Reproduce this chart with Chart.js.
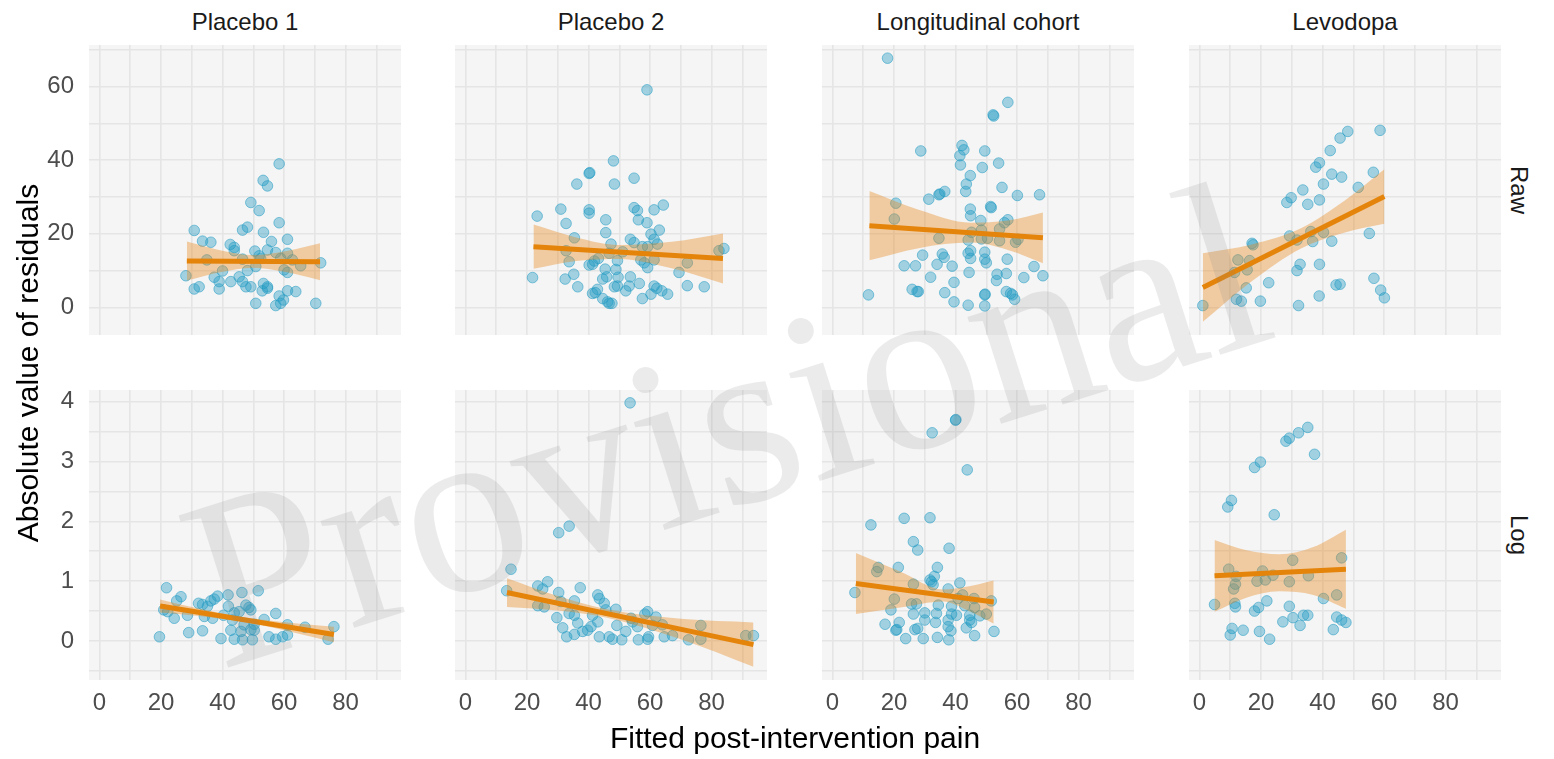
<!DOCTYPE html>
<html>
<head>
<meta charset="utf-8">
<script src="https://cdn.jsdelivr.net/npm/chart.js@4/dist/chart.umd.min.js"></script>
<style>
  html, body { margin: 0; padding: 0; background: #ffffff; }
  #fig { position: relative; width: 1554px; height: 759px; overflow: hidden;
         font-family: "Liberation Sans", Arial, sans-serif; }
  #fig canvas { position: absolute; }
  .lbl { position: absolute; white-space: nowrap; line-height: 1; }
  #wm { position: absolute; left: 0; top: 0; pointer-events: none; }
</style>
</head>
<body>
<div id="fig"></div>
<script>
// ---- facet labels ----
const columnNames = ["Placebo 1", "Placebo 2", "Longitudinal cohort", "Levodopa"];
const rowNames = ["Raw", "Log"];
const xTitle = "Fitted post-intervention pain";
const yTitle = "Absolute value of residuals";
const watermarkText = "Provisional";

// ---- axes: grid positions and labelled ticks ----
const xGrid = [0, 10, 20, 30, 40, 50, 60, 70, 80, 90];
const xTickLabels = [0, 20, 40, 60, 80];
const rawGrid = [0, 10, 20, 30, 40, 50, 60, 70];
const rawTickLabels = [0, 20, 40, 60];
const logGrid = [-0.5, 0, 0.5, 1, 1.5, 2, 2.5, 3, 3.5, 4];
const logTickLabels = [0, 1, 2, 3, 4];
const xRange = [-3.4, 98.0];
const rawRange = [-7.5, 71.28];
const logRange = [-0.652, 4.195];

// ---- Placebo 1, raw residuals ----
const placebo1RawX = [58.4,53.2,54.6,49.2,51.9,58.4,30.8,46.5,48.1,53.3,61.1,55.9,33.5,36.2,42.5,43.8,43.8,50.5,54.6,57.3,61.1,51.9,34.9,46.5,52.4,58.9,62.7,71.9,65.4,50.8,48.1,40.0,60.0,61.1,28.1,37.3,45.4,38.9,42.7,46.5,53.3,47.6,49.2,54.6,30.8,32.4,38.9,52.9,61.1,63.8,58.4,59.8,58.9,57.3,50.8,70.3,54.6];
const placebo1RawY = [39.0,34.5,33.0,28.5,26.3,23.0,20.9,21.0,21.8,20.4,18.5,17.9,18.0,17.7,17.1,16.3,15.4,15.3,15.6,14.9,14.7,14.0,12.9,13.1,13.3,13.3,12.9,12.1,11.3,11.1,10.0,9.9,10.2,9.5,8.6,8.2,8.3,7.0,7.0,7.0,6.5,5.6,5.6,5.2,5.0,5.6,5.0,4.5,4.5,4.3,3.1,2.0,1.1,0.5,1.1,1.1,5.6];
const placebo1RawFitX = [28.4, 71.7];
const placebo1RawFitY = [12.6, 12.4];
const placebo1RawBandX = [28.4, 39.2, 50, 60.9, 71.7];
const placebo1RawLo = [7.3, 9.55, 10.8, 9.55, 7.4];
const placebo1RawHi = [17.9, 15.55, 14.2, 15.35, 17.4];

// ---- Placebo 2, raw residuals ----
const placebo2RawX = [59.0,48.1,40.2,40.4,36.2,48.4,54.8,23.3,31.0,40.2,40.2,54.8,55.9,61.3,64.3,45.6,32.7,56.2,59.0,45.6,63.0,60.3,35.4,53.6,54.8,61.3,62.4,47.3,59.2,57.5,32.7,46.7,51.1,82.4,84.0,43.2,41.9,40.2,41.3,33.7,49.4,57.0,58.1,61.3,72.1,59.2,45.4,48.9,69.4,35.2,21.8,32.4,44.6,45.9,49.6,53.6,56.5,36.5,48.4,49.4,53.2,52.1,61.3,62.2,63.8,65.7,72.1,77.6,42.9,41.3,42.2,44.6,46.2,47.6,46.7,57.5,60.3];
const placebo2RawY = [59.1,39.8,36.4,36.6,33.5,33.5,35.1,24.8,26.7,26.5,25.6,27.1,26.3,26.5,27.8,23.8,22.8,23.8,23.0,20.3,21.0,19.9,18.9,18.5,17.6,18.5,17.2,17.2,16.5,16.5,15.4,14.7,15.1,15.4,16.0,13.3,12.6,11.5,11.7,12.4,12.7,12.9,12.1,12.9,12.1,10.8,10.4,10.3,9.5,9.0,8.1,7.7,7.7,8.3,8.2,8.3,6.5,5.6,5.6,5.8,5.8,4.5,5.8,5.2,4.5,3.6,5.9,5.6,4.9,3.8,4.0,2.4,1.5,1.1,1.1,2.4,3.6];
const placebo2RawFitX = [22.1, 83.7];
const placebo2RawFitY = [16.5, 13.3];
const placebo2RawBandX = [22.1, 36, 50, 67, 83.7];
const placebo2RawLo = [10.5, 12.6, 13.15, 10.6, 6.5];
const placebo2RawHi = [22.5, 19.0, 16.95, 17.8, 20.1];

// ---- Longitudinal cohort, raw residuals ----
const cohortRawX = [17.9,57.0,52.2,52.4,28.7,42.1,42.7,41.4,41.6,49.5,54.0,48.7,44.8,43.5,43.3,34.9,36.5,34.6,55.1,60.1,67.3,31.3,20.6,51.4,51.6,44.8,44.9,20.1,48.2,57.0,55.9,54.3,48.4,45.2,34.6,44.1,48.4,50.4,54.3,59.5,60.3,29.3,35.7,36.3,44.1,44.9,44.9,49.5,49.5,50.0,56.8,23.3,27.0,34.0,38.9,44.4,56.5,53.5,53.3,65.5,68.4,62.2,31.9,39.5,25.9,27.5,27.9,36.5,11.7,49.5,49.6,56.5,57.9,58.5,59.2,39.5,44.1,49.5];
const cohortRawY = [67.7,55.7,52.3,52.0,42.5,44.0,42.8,41.2,38.7,42.5,39.2,38.0,35.8,33.5,31.5,30.8,31.5,30.6,32.6,30.4,30.6,29.4,28.3,27.4,27.1,26.7,24.9,24.0,23.6,23.8,23.0,21.3,21.0,20.4,18.8,18.3,18.6,18.8,18.1,17.7,18.5,14.2,14.5,13.6,14.7,15.4,13.3,15.0,13.1,12.1,13.1,11.3,11.3,11.7,11.2,9.5,9.2,9.0,7.3,11.1,8.6,8.1,8.2,6.8,4.9,4.3,4.3,4.0,3.4,3.4,3.6,4.3,3.8,3.4,2.2,1.5,0.6,0.4];
const cohortRawFitX = [12.0, 68.4];
const cohortRawFitY = [22.2, 18.9];
const cohortRawBandX = [12, 28, 45, 57, 68.4];
const cohortRawLo = [12.8, 16.1, 17.6, 15.6, 12.0];
const cohortRawHi = [31.6, 26.5, 23.0, 23.6, 25.8];

// ---- Levodopa, raw residuals ----
const levodopaRawX = [58.7,48.2,45.7,42.5,39.0,37.8,56.5,43.0,46.2,40.3,51.6,33.6,39.0,29.8,28.4,35.2,29.3,31.7,36.2,36.8,40.3,43.0,55.2,17.1,17.4,12.5,16.3,11.4,15.5,15.2,32.7,31.7,39.0,22.5,12.0,13.6,19.8,1.1,32.2,38.9,44.4,45.7,56.7,58.9,60.1];
const levodopaRawY = [48.1,47.8,46.0,42.6,39.3,38.1,36.7,36.2,35.4,33.5,32.6,31.9,29.2,29.8,28.5,28.0,19.4,18.3,20.6,17.9,20.4,18.0,20.1,17.4,17.0,12.9,12.7,9.5,10.2,5.3,11.7,10.0,11.7,6.7,2.2,1.7,1.7,0.5,0.5,3.1,6.1,6.3,7.9,4.7,2.6];
const levodopaRawFitX = [1.1, 60.1];
const levodopaRawFitY = [5.4, 30.1];
const levodopaRawBandX = [1.1, 17, 33, 47, 60.1];
const levodopaRawLo = [-3.9, 7.1, 16.0, 20.3, 22.7];
const levodopaRawHi = [14.7, 17.1, 21.5, 28.9, 37.5];

// ---- Placebo 1, log residuals ----
const placebo1LogX = [21.8,51.6,46.3,41.8,38.4,26.5,25.1,32.2,33.5,36.2,37.3,35.1,41.9,47.6,48.6,49.2,45.4,43.8,57.3,20.9,22.2,28.6,24.3,34.1,36.8,40.3,53.5,49.2,50.3,42.7,46.0,33.5,29.0,61.1,61.1,59.5,57.3,55.1,49.7,46.5,43.8,39.5,19.5,66.8,76.2,74.3,43.2,47.0,50.3];
const placebo1LogY = [0.89,0.84,0.81,0.77,0.75,0.74,0.67,0.63,0.61,0.67,0.70,0.58,0.58,0.60,0.56,0.52,0.49,0.47,0.46,0.52,0.49,0.43,0.38,0.41,0.38,0.43,0.36,0.19,0.18,0.18,0.16,0.17,0.14,0.27,0.10,0.07,0.03,0.07,0.02,0.02,0.03,0.04,0.07,0.23,0.24,0.03,0.35,0.27,0.28];
const placebo1LogFitX = [19.7, 76.2];
const placebo1LogFitY = [0.585, 0.11];
const placebo1LogBandX = [19.7, 33, 46, 61, 76.2];
const placebo1LogLo = [0.475, 0.413, 0.324, 0.168, -0.02];
const placebo1LogHi = [0.695, 0.533, 0.404, 0.308, 0.24];

// ---- Placebo 2, log residuals ----
const placebo2LogX = [53.5,30.3,33.7,14.8,13.4,23.5,26.7,25.1,30.3,37.3,43.0,43.5,45.1,35.4,31.0,23.5,25.6,33.7,35.4,29.7,31.6,32.9,35.4,36.5,38.1,39.7,40.8,41.3,43.0,43.5,46.7,47.8,50.8,48.9,49.2,52.1,53.8,56.2,59.2,59.5,59.2,58.3,61.9,60.8,64.0,64.6,67.3,72.5,76.5,76.5,91.1,93.6,54.3,45.6,55.9];
const placebo2LogY = [3.98,1.81,1.92,1.20,0.84,0.92,0.99,0.87,0.81,0.89,0.77,0.71,0.63,0.67,0.66,0.59,0.57,0.46,0.43,0.39,0.22,0.07,0.11,0.30,0.16,0.18,0.24,0.43,0.32,0.07,0.07,0.03,0.02,0.53,0.26,0.16,0.38,0.02,0.03,0.07,0.49,0.45,0.40,0.26,0.27,0.07,0.09,0.02,0.26,0.03,0.09,0.09,0.32,0.52,0.24];
const placebo2LogFitX = [13.5, 93.6];
const placebo2LogFitY = [0.81, -0.06];
const placebo2LogBandX = [13.5, 30, 46, 70, 93.6];
const placebo2LogLo = [0.57, 0.51, 0.39, 0.03, -0.43];
const placebo2LogHi = [1.05, 0.75, 0.53, 0.37, 0.31];

// ---- Longitudinal cohort, log residuals ----
const cohortLogX = [40.0,40.1,32.4,43.8,12.5,23.3,31.7,26.3,27.7,37.9,14.9,14.4,21.4,34.1,33.1,31.7,32.7,26.3,41.4,7.3,20.1,25.7,27.3,37.6,42.3,46.0,51.6,34.4,38.7,43.0,19.0,26.3,30.0,33.8,38.7,40.3,44.6,46.2,47.9,50.0,30.0,33.5,37.6,44.6,45.2,21.7,17.1,20.6,20.9,26.8,27.7,37.6,38.5,43.5,52.5,23.8,29.5,34.1,37.8,46.2,40.8,32.2];
const cohortLogY = [3.69,3.70,3.48,2.86,1.94,2.05,2.06,1.66,1.52,1.55,1.23,1.16,1.23,1.23,1.08,1.02,0.94,0.95,0.97,0.81,0.70,0.62,0.62,0.87,0.77,0.71,0.67,0.60,0.58,0.59,0.52,0.45,0.47,0.46,0.45,0.43,0.43,0.56,0.42,0.45,0.35,0.31,0.35,0.35,0.31,0.31,0.28,0.18,0.19,0.19,0.21,0.24,0.17,0.22,0.16,0.04,0.04,0.06,0.02,0.09,0.71,0.99];
const cohortLogFitX = [7.6, 52.4];
const cohortLogFitY = [0.96, 0.65];
const cohortLogBandX = [7.6, 22, 36, 44, 52.4];
const cohortLogLo = [0.45, 0.56, 0.66, 0.51, 0.29];
const cohortLogHi = [1.47, 1.16, 0.86, 0.91, 1.01];

// ---- Levodopa, log residuals ----
const levodopaLogX = [35.2,32.2,29.2,28.1,37.4,19.8,17.9,10.4,9.2,24.3,46.2,30.3,9.5,20.5,23.9,35.4,11.9,11.7,11.1,18.7,21.4,29.2,40.3,44.6,4.9,11.5,11.7,21.9,17.9,19.2,29.2,27.1,30.4,33.8,35.2,32.7,44.6,46.2,47.6,43.5,10.6,10.0,14.2,19.5,22.8];
const levodopaLogY = [3.57,3.48,3.39,3.34,3.12,2.99,2.90,2.35,2.24,2.11,1.39,1.35,1.20,1.17,1.10,1.09,1.08,0.95,0.87,1.00,1.02,0.99,0.71,0.77,0.61,0.63,0.57,0.67,0.50,0.56,0.58,0.32,0.39,0.43,0.43,0.26,0.40,0.35,0.31,0.19,0.21,0.10,0.18,0.16,0.03];
const levodopaLogFitX = [4.9, 47.6];
const levodopaLogFitY = [1.09, 1.20];
const levodopaLogBandX = [4.9, 15, 26, 37, 47.6];
const levodopaLogLo = [0.49, 0.72, 0.83, 0.77, 0.54];
const levodopaLogHi = [1.69, 1.52, 1.45, 1.57, 1.86];

// ---- facet table ----
const facets = [
  { row: 0, col: 0, x: placebo1RawX, y: placebo1RawY, fitX: placebo1RawFitX, fitY: placebo1RawFitY, bandX: placebo1RawBandX, lo: placebo1RawLo, hi: placebo1RawHi },
  { row: 0, col: 1, x: placebo2RawX, y: placebo2RawY, fitX: placebo2RawFitX, fitY: placebo2RawFitY, bandX: placebo2RawBandX, lo: placebo2RawLo, hi: placebo2RawHi },
  { row: 0, col: 2, x: cohortRawX, y: cohortRawY, fitX: cohortRawFitX, fitY: cohortRawFitY, bandX: cohortRawBandX, lo: cohortRawLo, hi: cohortRawHi },
  { row: 0, col: 3, x: levodopaRawX, y: levodopaRawY, fitX: levodopaRawFitX, fitY: levodopaRawFitY, bandX: levodopaRawBandX, lo: levodopaRawLo, hi: levodopaRawHi },
  { row: 1, col: 0, x: placebo1LogX, y: placebo1LogY, fitX: placebo1LogFitX, fitY: placebo1LogFitY, bandX: placebo1LogBandX, lo: placebo1LogLo, hi: placebo1LogHi },
  { row: 1, col: 1, x: placebo2LogX, y: placebo2LogY, fitX: placebo2LogFitX, fitY: placebo2LogFitY, bandX: placebo2LogBandX, lo: placebo2LogLo, hi: placebo2LogHi },
  { row: 1, col: 2, x: cohortLogX, y: cohortLogY, fitX: cohortLogFitX, fitY: cohortLogFitY, bandX: cohortLogBandX, lo: cohortLogLo, hi: cohortLogHi },
  { row: 1, col: 3, x: levodopaLogX, y: levodopaLogY, fitX: levodopaLogFitX, fitY: levodopaLogFitY, bandX: levodopaLogBandX, lo: levodopaLogLo, hi: levodopaLogHi }
];

// ---- layout and style ----
const PANEL_W = 312, PANEL_H = 290;
const panelLeft = [89, 455, 822, 1189];
const panelTop = [45, 390];
const Y_AXIS_W = 89, X_AXIS_H = 45;
const SANS = '"Liberation Sans", Arial, sans-serif';
const panelFill = '#f5f5f5';
const gridColor = '#e5e5e5';
const pointFill = 'rgba(35,155,195,0.40)';
const pointEdge = 'rgba(35,155,195,0.55)';
const fitColor = '#e5840a';
const bandFill = 'rgba(232,135,25,0.38)';
const tickColor = '#4d4d4d';

Chart.defaults.font.family = SANS;

// grey panel background behind the grid
const panelBackground = {
  id: 'panelBackground',
  beforeDraw(chart) {
    const { ctx, chartArea: a } = chart;
    ctx.save();
    ctx.fillStyle = panelFill;
    ctx.fillRect(a.left, a.top, a.right - a.left, a.bottom - a.top);
    ctx.restore();
  }
};

const fig = document.getElementById('fig');

function pairs(xs, ys) { return xs.map((v, i) => ({ x: v, y: ys[i] })); }

function drawFacet(f) {
  const isLeft = f.col === 0, isBottom = f.row === 1;
  const yw = isLeft ? Y_AXIS_W : 0;
  const xh = isBottom ? X_AXIS_H : 0;
  const canvas = document.createElement('canvas');
  canvas.width = PANEL_W + yw;
  canvas.height = PANEL_H + xh;
  canvas.style.left = (isLeft ? panelLeft[0] - Y_AXIS_W : panelLeft[f.col]) + 'px';
  canvas.style.top = panelTop[f.row] + 'px';
  fig.appendChild(canvas);

  const yGrid = f.row === 0 ? rawGrid : logGrid;
  const yLabels = f.row === 0 ? rawTickLabels : logTickLabels;
  const yRange = f.row === 0 ? rawRange : logRange;

  new Chart(canvas, {
    type: 'scatter',
    data: {
      datasets: [
        { type: 'line', data: pairs(f.fitX, f.fitY), borderColor: fitColor, borderWidth: 5,
          borderCapStyle: 'butt', pointRadius: 0, fill: false },
        { type: 'line', data: pairs(f.bandX, f.hi), borderColor: 'rgba(0,0,0,0)', borderWidth: 0,
          pointRadius: 0, backgroundColor: bandFill, fill: '+1', cubicInterpolationMode: 'monotone' },
        { type: 'line', data: pairs(f.bandX, f.lo), borderColor: 'rgba(0,0,0,0)', borderWidth: 0,
          pointRadius: 0, fill: false, cubicInterpolationMode: 'monotone' },
        { type: 'scatter', data: pairs(f.x, f.y), pointRadius: 5.3, borderWidth: 1,
          backgroundColor: pointFill, borderColor: pointEdge }
      ]
    },
    options: {
      responsive: false,
      maintainAspectRatio: false,
      animation: false,
      devicePixelRatio: 1,
      events: [],
      layout: { padding: 0, autoPadding: false },
      plugins: { legend: { display: false }, tooltip: { enabled: false } },
      scales: {
        x: {
          type: 'linear', min: xRange[0], max: xRange[1],
          afterBuildTicks: s => { s.ticks = xGrid.map(v => ({ value: v })); },
          afterFit: s => { s.height = xh; s.paddingLeft = 0; s.paddingRight = 0; },
          grid: { color: gridColor, lineWidth: 1.6, drawTicks: false },
          border: { display: false },
          ticks: { display: isBottom, autoSkip: false, maxRotation: 0, padding: 9,
                   color: tickColor, font: { family: SANS, size: 24 },
                   callback: v => xTickLabels.includes(v) ? String(v) : '' }
        },
        y: {
          type: 'linear', min: yRange[0], max: yRange[1],
          afterBuildTicks: s => { s.ticks = yGrid.map(v => ({ value: v })); },
          afterFit: s => { s.width = yw; s.paddingTop = 0; s.paddingBottom = 0; },
          grid: { color: gridColor, lineWidth: 1.6, drawTicks: false },
          border: { display: false },
          ticks: { display: isLeft, autoSkip: false, padding: 15,
                   color: tickColor, font: { family: SANS, size: 24 },
                   callback: v => yLabels.includes(v) ? String(v) : '' }
        }
      }
    },
    plugins: [panelBackground]
  });
}

facets.forEach(drawFacet);

// ---- strip labels and axis titles ----
function addLabel(text, cx, cy, size, color, rotate) {
  const d = document.createElement('div');
  d.className = 'lbl';
  d.textContent = text;
  d.style.left = cx + 'px';
  d.style.top = cy + 'px';
  d.style.fontSize = size + 'px';
  d.style.color = color;
  d.style.transform = 'translate(-50%, -50%)' + (rotate ? ' rotate(' + rotate + 'deg)' : '');
  fig.appendChild(d);
}

columnNames.forEach((name, c) => addLabel(name, panelLeft[c] + PANEL_W / 2, 22, 24, '#1a1a1a', 0));
rowNames.forEach((name, r) => addLabel(name, 1519, panelTop[r] + PANEL_H / 2, 24, '#1a1a1a', 90));
addLabel(xTitle, (panelLeft[0] + panelLeft[3] + PANEL_W) / 2, 738, 30, '#000000', 0);
addLabel(yTitle, 28, (panelTop[0] + panelTop[1] + PANEL_H) / 2, 30, '#000000', -90);

// ---- diagonal draft watermark ----
const svgNS = 'http://www.w3.org/2000/svg';
const svg = document.createElementNS(svgNS, 'svg');
svg.setAttribute('id', 'wm');
svg.setAttribute('width', '1554');
svg.setAttribute('height', '759');
const t = document.createElementNS(svgNS, 'text');
t.setAttribute('x', '220');
t.setAttribute('y', '670');
t.setAttribute('transform', 'rotate(-17.5 220 670)');
t.setAttribute('font-family', '"Liberation Serif", "Times New Roman", serif');
t.setAttribute('font-size', '244');
t.setAttribute('fill', '#808080');
t.setAttribute('fill-opacity', '0.16');
t.textContent = watermarkText;
svg.appendChild(t);
fig.appendChild(svg);
</script>
</body>
</html>
